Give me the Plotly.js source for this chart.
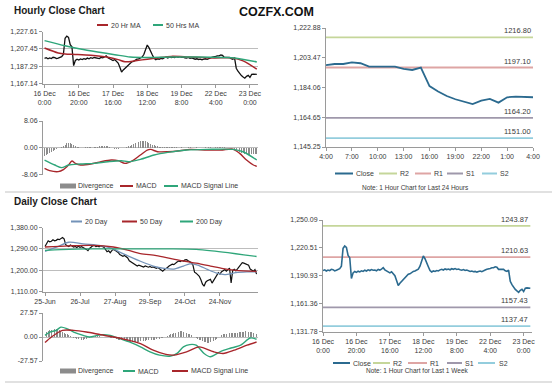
<!DOCTYPE html>
<html><head><meta charset="utf-8">
<script src="https://cdn.plot.ly/plotly-3.0.1.min.js"></script>
<style>html,body{margin:0;padding:0;background:#fff}#chart{width:560px;height:385px}</style>
</head><body><div id="chart"></div>
<script>
// ---------------- DATA ----------------
const hourlyTickLabels = ['16 Dec<br>0:00','16 Dec<br>20:00','17 Dec<br>16:00','18 Dec<br>12:00','19 Dec<br>8:00','22 Dec<br>4:00','23 Dec<br>0:00'];
const hourlyTickStep = 20;
const hourlyClose = [
1196.5,1197.2,1196.0,1197.0,1196.3,1197.8,1197.4,1196.2,1196.8,1197.5,
1198.5,1201.0,1220.0,1222.5,1221.0,1212.5,1210.0,1188.0,1194.0,1195.5,
1194.5,1195.8,1195.0,1196.2,1195.5,1196.8,1196.0,1197.2,1196.5,1197.5,
1196.8,1197.0,1196.2,1197.6,1197.0,1198.0,1199.5,1197.2,1196.0,1195.5,
1194.0,1195.2,1193.5,1191.0,1186.0,1180.5,1183.0,1185.0,1187.5,1189.5,
1191.0,1192.5,1193.0,1194.5,1195.5,1196.0,1197.0,1198.0,1201.0,1207.0,
1212.0,1209.0,1205.5,1200.5,1196.5,1195.0,1196.0,1195.5,1196.5,1196.0,
1197.2,1197.8,1197.0,1198.2,1197.5,1198.0,1197.3,1198.4,1197.8,1198.5,
1197.6,1198.0,1197.2,1196.8,1197.5,1196.5,1197.0,1196.2,1195.5,1196.0,
1195.2,1195.6,1194.8,1195.5,1196.0,1195.3,1196.5,1197.0,1197.8,1198.0,
1198.7,1199.4,1199.4,1200.4,1199.9,1197.7,1197.7,1197.9,1197.7,1196.2,
1195.5,1197.0,1185.0,1181.5,1178.5,1176.4,1174.8,1173.3,1175.5,1176.6,
1174.2,1177.7,1178.1,1178.1,1177.7];
const ma20HIdx = [0,8,12,18,27,37,43,47,54,60,66,74,85,99,110,116,124];
const ma20HVal = [1208.5,1202.7,1201.5,1201.0,1200.0,1197.7,1195.0,1192.5,1194.0,1195.5,1197.0,1198.8,1198.0,1197.0,1197.0,1193.5,1183.9];
const ma50HIdx = [0,12,21,31,41,50,60,74,89,104,112,124];
const ma50HVal = [1217.2,1211.1,1207.3,1203.9,1200.8,1198.1,1197.5,1198.1,1198.1,1197.5,1196.7,1192.3];
const hourlyPriceTicks = [1167.14,1187.29,1207.45,1227.61];

const divH = [
-2.4,-2.2,-1.8,-1.5,-1.2,-0.9,-0.6,-0.4,-0.2,0.0,
0.2,0.5,0.9,1.3,1.5,1.4,1.1,0.8,0.5,0.3,
0.1,0.0,-0.1,0.0,0.1,0.1,0.2,0.1,0.0,0.1,
0.2,0.3,0.4,0.5,0.6,0.6,0.5,0.4,0.2,0.0,
-0.2,-0.3,-0.4,-0.3,-0.2,-0.2,-0.1,0.0,0.2,0.4,
0.6,0.8,1.0,1.3,1.5,1.7,1.9,2.0,2.1,2.0,
1.8,1.5,1.2,0.9,0.7,0.5,0.4,0.3,0.3,0.2,
0.2,0.2,0.1,0.1,0.1,0.1,0.1,0.1,0.0,0.0,
0.1,0.0,-0.1,0.0,0.1,0.1,0.0,-0.1,0.0,0.1,
0.0,-0.1,-0.1,0.0,0.1,0.0,0.1,0.1,0.0,0.1,
0.1,0.1,0.1,0.2,0.2,0.1,0.1,0.0,0.0,-0.1,
-0.2,-0.4,-0.7,-1.0,-1.3,-1.5,-1.7,-1.9,-2.0,-2.1,
-2.1,-2.0,-2.0,-1.9,-1.9];
const macdHIdx = [0,3,8,11,14,16,18,21,27,33,39,43,47,52,56,60,62,66,72,79,85,95,103,110,114,118,122,124];
const macdHVal = [-6.2,-6.9,-7.2,-6.6,-5.2,-4.0,-4.7,-5.2,-4.9,-4.2,-3.7,-3.9,-4.7,-3.7,-2.2,-0.7,-0.5,-1.2,-1.2,-0.9,-0.5,-0.7,-0.7,-0.4,-1.7,-3.7,-5.2,-5.6];
const sigHIdx = [0,6,10,14,21,29,37,45,49,56,64,72,83,95,110,116,124];
const sigHVal = [-3.7,-5.2,-6.0,-5.2,-4.9,-4.7,-4.2,-3.9,-4.2,-3.5,-2.2,-1.4,-0.7,-0.5,-0.5,-1.2,-3.7];
const hourlyMacdTicks = [-8.06,0,8.06];

const hours24Labels = ['4:00','7:00','10:00','13:00','16:00','19:00','22:00','1:00','4:00'];
const hours24Step = 3;
const levels24 = [1216.80,1197.10,1164.20,1151.00];
const levelNames = ['R2','R1','S1','S2'];
const price24Ticks = [1145.25,1164.65,1184.06,1203.47,1222.88];

const dailyTickLabels = ['25-Jun','26-Jul','27-Aug','29-Sep','24-Oct','24-Nov'];
const dailyTickStep = 22;
const dailyClose = [
1300,1312,1324,1320,1322,1328,1324,1326,1331,1329,
1335,1338,1332,1308,1303,1300,1306,1302,1298,1300,
1296,1301,1297,1299,1294,1292,1288,1283,1292,1298,
1303,1305,1300,1302,1299,1303,1300,1297,1288,1278,
1282,1274,1283,1288,1284,1281,1275,1266,1262,1259,
1262,1255,1252,1240,1236,1231,1228,1224,1218,1222,
1220,1217,1214,1218,1215,1213,1216,1212,1214,1210,
1208,1212,1207,1204,1196,1203,1206,1212,1218,1222,
1226,1224,1231,1235,1239,1237,1241,1239,1244,1245,
1240,1237,1232,1222,1192,1188,1182,1175,1160,1142,
1133,1150,1156,1160,1162,1146,1158,1168,1180,1190,
1184,1194,1198,1203,1196,1205,1209,1147,1200,1204,
1198,1206,1215,1228,1232,1230,1226,1224,1221,1205,
1200,1196,1203,1184];
const ma20DIdx = [0,8,15,24,35,42,49,60,68,75,81,87,91,96,102,108,113,120,127,133];
const ma20DVal = [1280,1300,1318,1311,1304,1292,1270,1238,1218,1208,1205,1218,1227,1222,1204,1188,1182,1190,1193,1194];
const ma50DIdx = [0,15,30,43,52,60,70,80,88,95,104,112,120,133];
const ma50DVal = [1298,1303,1305,1298,1285,1270,1262,1248,1238,1230,1218,1207,1200,1195];
const ma200DIdx = [0,10,30,60,80,95,105,115,125,133];
const ma200DVal = [1284,1287,1290,1290,1290,1288,1282,1274,1265,1258];
const dailyPriceTicks = [1110,1200,1290,1380];

const divD = [
5,6,7,8,8.5,9,9.5,9,8.5,8,
7,6,5,4,3,2,1,0,-1,-1.5,
-2,-2.5,-3,-3,-3,-2.5,-2,-1.5,-1,-0.5,
0,0.5,1,1,1,0.5,0.5,0,0,-0.5,
-0.5,-1,-1,-1.5,-2,-2.5,-3,-3.5,-4,-4.5,
-5,-5,-5.5,-5.5,-6,-6,-6,-6,-5.5,-5.5,
-5,-5,-4.5,-4.5,-4,-4,-3.5,-3.5,-3,-3,
-2.5,-2.5,-2,-1.5,-1,-0.5,0,1,2,3,
4,4.5,5,5.5,6,6.5,6.5,6,5.5,5,
4,3,2,1,0,-1,-2,-3,-4,-5,
-5.5,-6,-6.5,-6.5,-6,-5.5,-4.5,-3.5,-2,-0.5,
1,2,3,3.5,4,4,4.5,4.5,4.5,5,
5,5,5.5,5.5,6,6,6.5,6.5,6,6,
5.5,5,4.5,4];
const macdDIdx = [0,3,7,10,14,18,24,28,35,41,47,53,60,66,72,79,83,87,91,95,100,104,110,116,123,129,133];
const macdDVal = [1.9,5.7,7.6,11.3,9.4,5.7,1.9,0,2.6,1.9,-1.9,-5.7,-11.3,-17,-20.8,-21.9,-18.9,-11.3,-8.7,-9.4,-18.9,-22.7,-17,-13.2,-9.4,-1.1,-2.6];
const sigDIdx = [0,4,11,18,26,35,43,51,60,68,76,81,89,97,106,112,119,127,133];
const sigDVal = [-6.4,0,7.6,7.6,5.7,2.6,0,-3,-7.6,-15.1,-20,-20.8,-17,-11.3,-17,-18.9,-15.1,-9.4,-5.7];
const dailyMacdTicks = [-27.57,0,27.57];

const levelsWeek = [1243.87,1210.63,1157.43,1137.47];
const priceWeekTicks = [1131.78,1161.36,1190.93,1220.51,1250.09];

// ---------------- STYLE / LAYOUT ----------------
const W = 560, H = 385;
const px = p => p / W;
const py = p => 1 - p / H;
const domX = (a, b) => [px(a), px(b)];
const domY = (top, bottom) => [py(bottom), py(top)];
const FONT = 'Liberation Sans Narrow, Arial Narrow, Liberation Sans, Arial, sans-serif';
const BOLD = 'Liberation Sans, Arial, sans-serif';
const TS = 7;
const TICKC = '#3a3a3a', AXC = '#9a9a9a', GRIDC = '#bdbdbd';
const C = {close:'#2b6a8f', black:'#111111', red:'#a8262b', green:'#2fa67a', blue:'#7392b8', gray:'#8c8c8c',
  R2:'#c5d69a', R1:'#dea5a4', S1:'#9f98ab', S2:'#93cddd'};
const levelColors = [C.R2, C.R1, C.S1, C.S2];
const fmt = v => v.toLocaleString('en-US', {minimumFractionDigits:2, maximumFractionDigits:2});
const idx = arr => arr.map((_, i) => i);
const tickIdx = (labels, step) => labels.map((_, i) => i * step);

function xAx(dom, range, anchor, tickvals, ticktext) {
  const a = {domain: dom, range: range, anchor: anchor, showgrid: false, zeroline: false,
    showline: !!tickvals, linecolor: AXC, linewidth: 1, fixedrange: true,
    tickfont: {family: FONT, size: TS, color: TICKC}};
  if (tickvals) { Object.assign(a, {tickmode:'array', tickvals, ticktext, ticks:'outside', ticklen:3, tickcolor:AXC}); }
  else { Object.assign(a, {showticklabels:false, ticks:''}); }
  return a;
}
function yAx(dom, range, anchor, tickvals, grid, zero) {
  return {domain: dom, range: range, anchor: anchor, tickmode:'array', tickvals, ticktext: tickvals.map(fmt),
    showgrid: !!grid, gridcolor: GRIDC, gridwidth: 1, zeroline: !!zero, zerolinecolor: GRIDC, zerolinewidth: 1,
    showline: true, linecolor: AXC, linewidth: 1, ticks:'outside', ticklen:3, tickcolor: AXC, fixedrange: true,
    tickfont: {family: FONT, size: TS, color: TICKC}};
}

const hx = idx(hourlyClose);
const dx = idx(dailyClose);
const last24 = hourlyClose.slice(hourlyClose.length - (hours24Labels.length - 1) * hours24Step - 1);
const h24x = idx(last24);

const traces = [];
// Hourly price
traces.push({x: hx, y: hourlyClose, xaxis:'x', yaxis:'y', type:'scatter', mode:'lines', name:'Close', line:{color:C.black, width:1.3}});
traces.push({x: ma20HIdx, y: ma20HVal, xaxis:'x', yaxis:'y', type:'scatter', mode:'lines', name:'20 Hr MA', line:{color:C.red, width:1.5, shape:'spline', smoothing:0.8}});
traces.push({x: ma50HIdx, y: ma50HVal, xaxis:'x', yaxis:'y', type:'scatter', mode:'lines', name:'50 Hrs MA', line:{color:C.green, width:1.5, shape:'spline', smoothing:0.8}});
// Hourly MACD
traces.push({x: hx, y: divH, xaxis:'x2', yaxis:'y2', type:'bar', name:'Divergence', marker:{color:C.gray, line:{width:0}}, width:0.55});
traces.push({x: macdHIdx, y: macdHVal, xaxis:'x2', yaxis:'y2', type:'scatter', mode:'lines', name:'MACD', line:{color:C.red, width:1.4, shape:'spline', smoothing:0.8}});
traces.push({x: sigHIdx, y: sigHVal, xaxis:'x2', yaxis:'y2', type:'scatter', mode:'lines', name:'MACD Signal Line', line:{color:C.green, width:1.4, shape:'spline', smoothing:0.8}});
// 24h chart
levels24.forEach((lv, i) => traces.push({x:[h24x[0], h24x[h24x.length-1]], y:[lv, lv], xaxis:'x3', yaxis:'y3', type:'scatter', mode:'lines', name:levelNames[i], line:{color:levelColors[i], width:1.8}}));
traces.push({x: h24x, y: last24, xaxis:'x3', yaxis:'y3', type:'scatter', mode:'lines', name:'Close', line:{color:C.close, width:1.8}});
// Daily price
traces.push({x: dx, y: dailyClose, xaxis:'x4', yaxis:'y4', type:'scatter', mode:'lines', name:'Close', line:{color:C.black, width:1.2}});
traces.push({x: ma20DIdx, y: ma20DVal, xaxis:'x4', yaxis:'y4', type:'scatter', mode:'lines', name:'20 Day', line:{color:C.blue, width:1.3, shape:'spline', smoothing:0.8}});
traces.push({x: ma50DIdx, y: ma50DVal, xaxis:'x4', yaxis:'y4', type:'scatter', mode:'lines', name:'50 Day', line:{color:C.red, width:1.3, shape:'spline', smoothing:0.8}});
traces.push({x: ma200DIdx, y: ma200DVal, xaxis:'x4', yaxis:'y4', type:'scatter', mode:'lines', name:'200 Day', line:{color:C.green, width:1.3, shape:'spline', smoothing:0.8}});
// Daily MACD
traces.push({x: dx, y: divD, xaxis:'x5', yaxis:'y5', type:'bar', name:'Divergence', marker:{color:C.gray, line:{width:0}}, width:0.55});
traces.push({x: macdDIdx, y: macdDVal, xaxis:'x5', yaxis:'y5', type:'scatter', mode:'lines', name:'MACD', line:{color:C.green, width:1.4, shape:'spline', smoothing:0.8}});
traces.push({x: sigDIdx, y: sigDVal, xaxis:'x5', yaxis:'y5', type:'scatter', mode:'lines', name:'MACD Signal Line', line:{color:C.red, width:1.4, shape:'spline', smoothing:0.8}});
// Week chart
levelsWeek.forEach((lv, i) => traces.push({x:[hx[0], hx[hx.length-1]], y:[lv, lv], xaxis:'x6', yaxis:'y6', type:'scatter', mode:'lines', name:levelNames[i], line:{color:levelColors[i], width:1.8}}));
traces.push({x: hx, y: hourlyClose, xaxis:'x6', yaxis:'y6', type:'scatter', mode:'lines', name:'Close', line:{color:C.close, width:1.6}});

const hTicks = tickIdx(hourlyTickLabels, hourlyTickStep);
const layout = {
  width: W, height: H, margin:{l:0,r:0,t:0,b:0}, paper_bgcolor:'#fff', plot_bgcolor:'rgba(0,0,0,0)',
  showlegend:false, bargap:0, font:{family:FONT, size:TS, color:TICKC},
  xaxis:  xAx(domX(43,258), [-0.9,124.7], 'y', hTicks, hourlyTickLabels),
  yaxis:  yAx(domY(31.7,83.5), [hourlyPriceTicks[0], hourlyPriceTicks[hourlyPriceTicks.length-1]], 'x', hourlyPriceTicks, true),
  xaxis2: xAx(domX(43,258), [-0.9,124.7], 'y2'),
  yaxis2: yAx(domY(121,174.5), [hourlyMacdTicks[0], hourlyMacdTicks[2]], 'x2', hourlyMacdTicks, false, true),
  xaxis3: xAx(domX(326,533), [0, h24x.length-1], 'y3', tickIdx(hours24Labels, hours24Step), hours24Labels),
  yaxis3: yAx(domY(28,147), [price24Ticks[0], price24Ticks[price24Ticks.length-1]], 'x3', price24Ticks),
  xaxis4: xAx(domX(43,258), [-1.26,133.9], 'y4', tickIdx(dailyTickLabels, dailyTickStep), dailyTickLabels),
  yaxis4: yAx(domY(227.5,291.7), [dailyPriceTicks[0], dailyPriceTicks[dailyPriceTicks.length-1]], 'x4', dailyPriceTicks, true),
  xaxis5: xAx(domX(43,258), [-1.26,133.9], 'y5'),
  yaxis5: yAx(domY(313,361), [dailyMacdTicks[0], dailyMacdTicks[2]], 'x5', dailyMacdTicks, false, true),
  xaxis6: xAx(domX(323,532), [0,125], 'y6', hTicks, hourlyTickLabels),
  yaxis6: yAx(domY(220,331.5), [priceWeekTicks[0], priceWeekTicks[priceWeekTicks.length-1]], 'x6', priceWeekTicks),
  shapes: [], annotations: []
};

const ann = (x, y, text, opt) => layout.annotations.push(Object.assign({xref:'paper', yref:'paper', x:px(x), y:py(y), text,
  showarrow:false, xanchor:'left', yanchor:'middle', font:{family:FONT, size:TS, color:TICKC}}, opt || {}));
const lineSym = (x0, x1, y, color) => layout.shapes.push({type:'line', xref:'paper', yref:'paper', x0:px(x0), x1:px(x1), y0:py(y), y1:py(y), line:{color, width:2}});
const rectSym = (x0, x1, y, color) => layout.shapes.push({type:'rect', xref:'paper', yref:'paper', x0:px(x0), x1:px(x1), y0:py(y+2.5), y1:py(y-2.5), fillcolor:color, line:{width:0}});

// titles
ann(12, 10, '<b>Hourly Close Chart</b>', {font:{family:BOLD, size:10, color:'#1a1a1a'}});
ann(276, 12.5, '<b>COZFX.COM</b>', {xanchor:'center', font:{family:BOLD, size:12.5, color:'#111'}});
ann(12, 201.5, '<b>Daily Close Chart</b>', {font:{family:BOLD, size:10, color:'#1a1a1a'}});

// legends built from trace names
const tn = (axis, name) => traces.find(t => t.xaxis === axis && t.name === name);
function legendItem(t, x0, x1, y, tx) {
  if (t.type === 'bar') rectSym(x0, x1, y, t.marker.color); else lineSym(x0, x1, y, t.line.color);
  ann(tx, y, t.name);
}
legendItem(tn('x','20 Hr MA'), 97, 108, 25, 109);
legendItem(tn('x','50 Hrs MA'), 153, 163, 25, 164);
legendItem(tn('x2','Divergence'), 60, 76, 186, 76.5);
legendItem(tn('x2','MACD'), 120, 133, 186, 134);
legendItem(tn('x2','MACD Signal Line'), 164, 178, 186, 179);
legendItem(tn('x3','Close'), 335, 353, 173.5, 353.5);
legendItem(tn('x3','R2'), 379, 397, 173.5, 398);
legendItem(tn('x3','R1'), 415, 431, 173.5, 432);
legendItem(tn('x3','S1'), 447, 463, 173.5, 464);
legendItem(tn('x3','S2'), 482, 497, 173.5, 498);
ann(415, 187.5, 'Note: 1 Hour Chart for Last 24 Hours', {xanchor:'center', font:{family:FONT, size:6.5, color:TICKC}});
legendItem(tn('x4','20 Day'), 71, 82, 221.5, 82.5);
legendItem(tn('x4','50 Day'), 122, 137, 221.5, 137.5);
legendItem(tn('x4','200 Day'), 180, 193, 221.5, 193.5);
legendItem(tn('x5','Divergence'), 60, 76, 371, 76.5);
legendItem(tn('x5','MACD'), 123, 135, 371, 136);
legendItem(tn('x5','MACD Signal Line'), 172, 188, 371, 189);
legendItem(tn('x6','Close'), 333, 350, 363, 350.5);
legendItem(tn('x6','R2'), 373, 390, 363, 391);
legendItem(tn('x6','R1'), 408, 427, 363, 428);
legendItem(tn('x6','S1'), 447, 462, 363, 463);
legendItem(tn('x6','S2'), 478, 495, 363, 496.5);
ann(417, 370.5, 'Note: 1 Hour Chart for Last 1 Week', {xanchor:'center', font:{family:FONT, size:6.5, color:TICKC}});

// level value labels
levels24.forEach(lv => layout.annotations.push({xref:'x3', yref:'y3', x:h24x[h24x.length-1], y:lv, text:lv.toFixed(2), showarrow:false,
  xanchor:'right', yanchor:'bottom', yshift:0, font:{family:FONT, size:7.5, color:TICKC}}));
levelsWeek.forEach(lv => layout.annotations.push({xref:'x6', yref:'y6', x:hx[hx.length-1], y:lv, text:lv.toFixed(2), showarrow:false,
  xanchor:'right', yanchor:'bottom', yshift:0, font:{family:FONT, size:7.5, color:TICKC}}));

// separators
[192, 382].forEach(y => layout.shapes.push({type:'line', xref:'paper', yref:'paper', x0:px(5), x1:px(552), y0:py(y), y1:py(y), line:{color:'#c4c4c4', width:1.2}}));

Plotly.newPlot('chart', traces, layout, {staticPlot:true, displayModeBar:false});
</script></body></html>
